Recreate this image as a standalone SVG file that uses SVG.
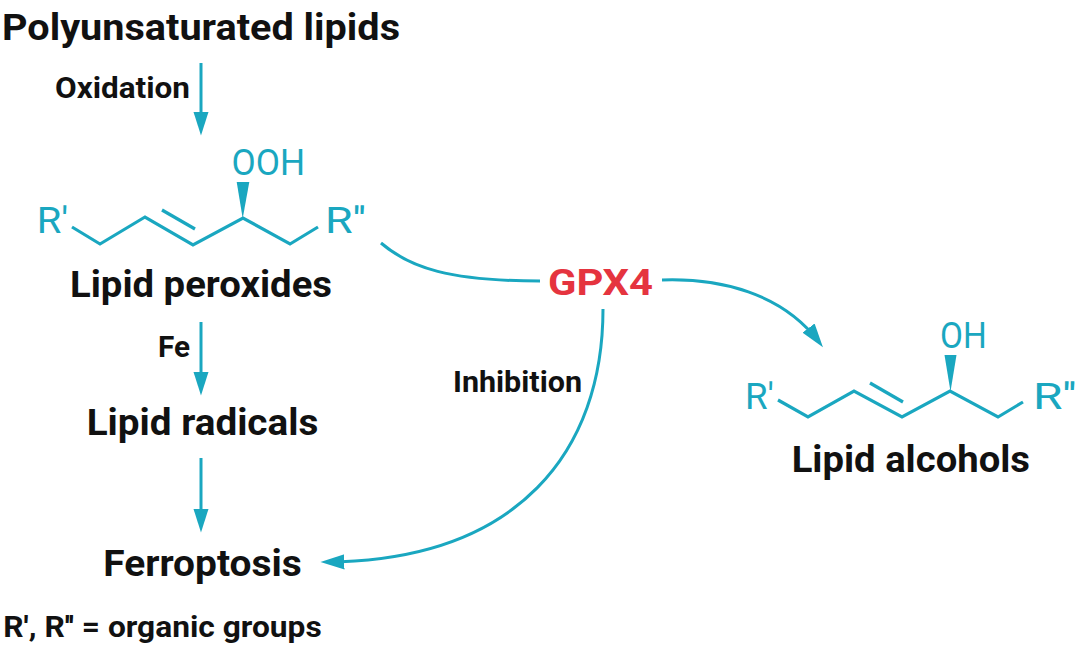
<svg xmlns="http://www.w3.org/2000/svg" width="1080" height="649" viewBox="0 0 1080 649">
<style>
.lbl{font-family:Roboto,"Liberation Sans",sans-serif;font-weight:700;fill:#111;}
.big{font-size:37px;}
.sm{font-size:30px;}
.chem{font-family:Roboto,"Liberation Sans",sans-serif;font-weight:400;font-size:36px;fill:#1aa7c0;}
.bond{fill:none;stroke:#1aa7c0;stroke-width:3.2;stroke-linejoin:miter;stroke-linecap:butt;}
.conn{fill:none;stroke:#1aa7c0;stroke-width:3;}
.wedge{fill:#1aa7c0;}
</style>
<defs>
<marker id="ah" markerUnits="userSpaceOnUse" markerWidth="24" markerHeight="16" viewBox="0 0 22 14" refX="16" refY="7" orient="auto">
<path d="M0,0 L22,7 L0,14 z" fill="#1aa7c0"/>
</marker>
</defs>
<rect width="1080" height="649" fill="#fff"/>

<g id="connectors">
<path class="conn" d="M201,63 V129" marker-end="url(#ah)"/>
<path class="conn" d="M201,322 V389" marker-end="url(#ah)"/>
<path class="conn" d="M201,458 V526" marker-end="url(#ah)"/>
<path class="conn" d="M381,243 C410,268 450,281 540,281"/>
<path class="conn" d="M662,280 C720,278 782,293 819,342" marker-end="url(#ah)"/>
<path class="conn" d="M603,309 C603,450 520,560 327,562" marker-end="url(#ah)"/>
</g>

<g id="node-polyunsaturated">
<text class="lbl big" x="2" y="40" textLength="398" lengthAdjust="spacingAndGlyphs">Polyunsaturated lipids</text>
</g>
<g id="label-oxidation">
<text class="lbl sm" x="55" y="98" textLength="135" lengthAdjust="spacingAndGlyphs">Oxidation</text>
</g>

<g id="node-lipid-peroxides">
<g id="molecule-peroxide">
<text class="chem" x="231.5" y="174.5" textLength="73.5" lengthAdjust="spacingAndGlyphs">OOH</text>
<text class="chem" x="36.7" y="233" textLength="31.6" lengthAdjust="spacingAndGlyphs">R'</text>
<text class="chem" x="325" y="233" textLength="41" lengthAdjust="spacingAndGlyphs">R''</text>
<polyline class="bond" points="72,227 100,244 145,217 193,245 243,218 290,244 318,227"/>
<line class="bond" x1="162" y1="210" x2="195" y2="229"/>
<polygon class="wedge" points="242.7,218.5 236.7,182 249.3,182"/>
</g>
<text class="lbl big" x="70" y="297" textLength="262" lengthAdjust="spacingAndGlyphs">Lipid peroxides</text>
</g>

<g id="label-fe">
<text class="lbl sm" x="158" y="356.7" textLength="32" lengthAdjust="spacingAndGlyphs">Fe</text>
</g>

<g id="node-lipid-radicals">
<text class="lbl big" x="86.7" y="435" textLength="231.6" lengthAdjust="spacingAndGlyphs">Lipid radicals</text>
</g>

<g id="node-ferroptosis">
<text class="lbl big" x="103.3" y="576" textLength="198.4" lengthAdjust="spacingAndGlyphs">Ferroptosis</text>
</g>

<g id="node-gpx4">
<text class="lbl big" x="548" y="295" textLength="105" lengthAdjust="spacingAndGlyphs" style="fill:#e5343f">GPX4</text>
</g>

<g id="label-inhibition">
<text class="lbl sm" x="453" y="391.5" textLength="129" lengthAdjust="spacingAndGlyphs">Inhibition</text>
</g>

<g id="node-lipid-alcohols">
<g id="molecule-alcohol">
<text class="chem" x="940" y="347.5" textLength="46.7" lengthAdjust="spacingAndGlyphs">OH</text>
<text class="chem" x="745" y="409" textLength="29" lengthAdjust="spacingAndGlyphs">R'</text>
<text class="chem" x="1033" y="409" textLength="43.7" lengthAdjust="spacingAndGlyphs">R''</text>
<polyline class="bond" points="778,400 808,417 854,391 902,417 950,391 998,417 1023,402"/>
<line class="bond" x1="870" y1="383" x2="903" y2="402"/>
<polygon class="wedge" points="950.5,391.5 944.5,355 956.5,355"/>
</g>
<text class="lbl big" x="791.7" y="471.7" textLength="238.3" lengthAdjust="spacingAndGlyphs">Lipid alcohols</text>
</g>

<g id="legend">
<text class="lbl sm" x="3.3" y="636.7" textLength="318.4" lengthAdjust="spacingAndGlyphs">R', R'' = organic groups</text>
</g>
</svg>
